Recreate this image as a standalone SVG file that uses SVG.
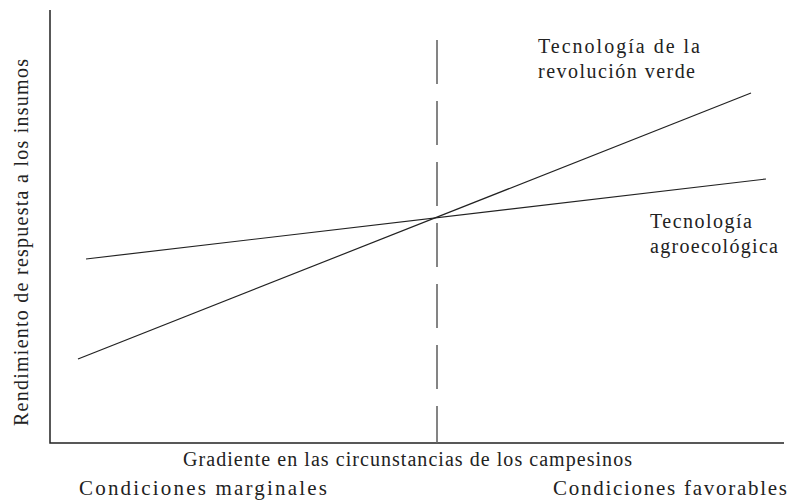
<svg xmlns="http://www.w3.org/2000/svg" width="806" height="502" viewBox="0 0 806 502">
<style>
text{font-family:"Liberation Serif","Times New Roman",serif;font-size:20px;fill:#222}
.big{font-size:21px}
.ax{stroke:#222;stroke-width:1.5;fill:none}
.ln{stroke:#222;stroke-width:1.2;fill:none}
.dash{stroke:#666;stroke-width:1.6;stroke-dasharray:44 17;fill:none}
</style>
<rect width="806" height="502" fill="#fff"/>
<g id="axes">
<path class="ax" d="M50,10 V443 H784"/>
</g>
<g id="connectors">
<line class="dash" x1="437" y1="40" x2="437" y2="443"/>
<line id="revolucion" class="ln" x1="78" y1="359" x2="751" y2="93"/>
<line id="agroecologica" class="ln" x1="86" y1="259" x2="766" y2="179"/>
</g>
<g id="label-revolucion">
<text x="538" y="53" textLength="162" lengthAdjust="spacing">Tecnología de la</text>
<text x="538" y="78" textLength="157" lengthAdjust="spacing">revolución verde</text>
</g>
<g id="label-agro">
<text x="650" y="228" textLength="102" lengthAdjust="spacing">Tecnología</text>
<text x="650" y="253" textLength="128" lengthAdjust="spacing">agroecológica</text>
</g>
<g id="axis-labels">
<text transform="translate(28,426) rotate(-90)" textLength="367" lengthAdjust="spacing">Rendimiento de respuesta a los insumos</text>
<text x="183" y="466" textLength="449" lengthAdjust="spacing">Gradiente en las circunstancias de los campesinos</text>
<text class="big" x="79" y="495" textLength="248" lengthAdjust="spacing">Condiciones marginales</text>
<text class="big" x="553" y="495" textLength="234" lengthAdjust="spacing">Condiciones favorables</text>
</g>
</svg>
